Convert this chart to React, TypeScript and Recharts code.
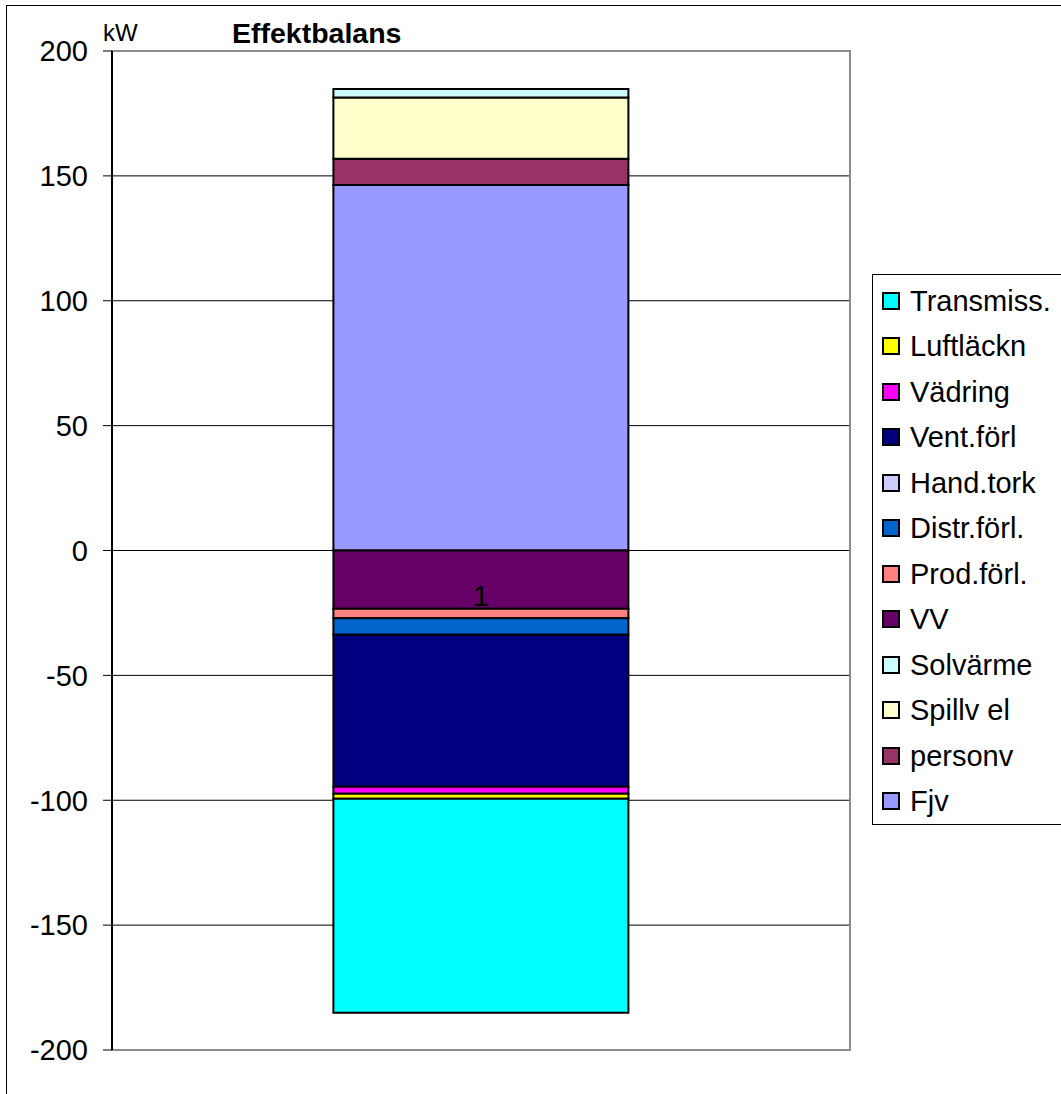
import { Bar, BarChart, CartesianGrid, ReferenceArea, ReferenceLine, XAxis, YAxis } from "recharts";

const categories = ["1"];

// kW per post (positive = tillförd, negative = förluster)
const fjv = [146.3];
const personv = [10.6];
const spillvEl = [24.5];
const solvarme = [3.4];
const vv = [-23.3];
const prodForl = [-3.8];
const distrForl = [-6.6];
const handTork = [0];
const ventForl = [-60.9];
const vadring = [-2.8];
const luftlackn = [-2.0];
const transmiss = [-85.7];

const yTicks = [-200, -150, -100, -50, 0, 50, 100, 150, 200];

// stacking order (Excel series order)
const series = [
  { key: "fjv", name: "Fjv", values: fjv, color: "#9999FF" },
  { key: "personv", name: "personv", values: personv, color: "#993366" },
  { key: "spillvEl", name: "Spillv el", values: spillvEl, color: "#FFFFCC" },
  { key: "solvarme", name: "Solvärme", values: solvarme, color: "#CCFFFF" },
  { key: "vv", name: "VV", values: vv, color: "#660066" },
  { key: "prodForl", name: "Prod.förl.", values: prodForl, color: "#FF8080" },
  { key: "distrForl", name: "Distr.förl.", values: distrForl, color: "#0066CC" },
  { key: "handTork", name: "Hand.tork", values: handTork, color: "#CCCCFF" },
  { key: "ventForl", name: "Vent.förl", values: ventForl, color: "#000080" },
  { key: "vadring", name: "Vädring", values: vadring, color: "#FF00FF" },
  { key: "luftlackn", name: "Luftläckn", values: luftlackn, color: "#FFFF00" },
  { key: "transmiss", name: "Transmiss.", values: transmiss, color: "#00FFFF" },
];

const data = categories.map((cat, i) => {
  const row: Record<string, string | number> = { cat };
  series.forEach((s) => {
    row[s.key] = s.values[i];
  });
  return row;
});

const FONT = "'Liberation Sans', Arial, sans-serif";
const FS = 29;

export default function App() {
  return (
    <div
      style={{
        position: "absolute",
        left: 0,
        top: 0,
        width: 1061,
        height: 1094,
        overflow: "hidden",
        background: "#fff",
        fontFamily: FONT,
      }}
    >
      <div
        style={{
          position: "absolute",
          left: 6,
          top: 5,
          width: 1200,
          height: 1200,
          border: "1px solid #000",
        }}
      />
      <div style={{ position: "absolute", left: 103, top: 19, fontSize: 24, lineHeight: "28px" }}>kW</div>
      <div
        style={{
          position: "absolute",
          left: 232,
          top: 17,
          fontSize: 28.5,
          fontWeight: "bold",
          lineHeight: "32px",
        }}
      >
        Effektbalans
      </div>
      <div style={{ position: "absolute", left: 0, top: 0 }}>
        <BarChart
          width={1061}
          height={1094}
          data={data}
          stackOffset="sign"
          barCategoryGap="30%"
          margin={{ top: 51, right: 211, bottom: 44, left: 0 }}
        >
          <CartesianGrid
            vertical={false}
            horizontalValues={[-150, -100, -50, 0, 50, 100, 150]}
            stroke="#000"
            strokeWidth={1}
          />
          <ReferenceArea y1={-200} y2={200} fill="none" stroke="#8c8c8c" strokeWidth={2} />
          <XAxis dataKey="cat" hide />
          <YAxis
            width={112}
            domain={[-200, 200]}
            ticks={yTicks}
            interval={0}
            tick={{ fill: "#000", fontSize: FS, fontFamily: FONT }}
            tickSize={9}
            tickMargin={15}
            tickLine={{ stroke: "#000" }}
            axisLine={{ stroke: "#000", strokeWidth: 2 }}
          />
          {series.map((s) => (
            <Bar
              key={s.key}
              dataKey={s.key}
              name={s.name}
              stackId="a"
              fill={s.color}
              stroke="#000"
              strokeWidth={2}
              isAnimationActive={false}
            />
          ))}
          <ReferenceLine
            y={0}
            stroke="none"
            label={{ value: categories[0], position: "bottom", offset: 35, fill: "#000", fontSize: FS, fontFamily: FONT }}
          />
        </BarChart>
      </div>
      <div
        style={{
          position: "absolute",
          left: 872,
          top: 274,
          width: 250,
          height: 551,
          border: "1px solid #000",
          background: "#fff",
          paddingTop: 3,
          boxSizing: "border-box",
        }}
      >
        {[...series].reverse().map((s) => (
          <div key={s.key} style={{ display: "flex", alignItems: "center", height: 45.5 }}>
            <span
              style={{
                width: 18,
                height: 18,
                boxSizing: "border-box",
                border: "2px solid #000",
                background: s.color,
                marginLeft: 9,
                marginRight: 10,
              }}
            />
            <span style={{ fontSize: FS, lineHeight: "32px", color: "#000" }}>{s.name}</span>
          </div>
        ))}
      </div>
    </div>
  );
}
